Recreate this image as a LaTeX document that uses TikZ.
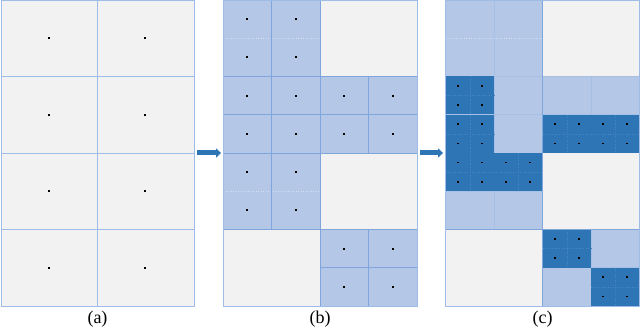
\documentclass[tikz,border=0pt]{standalone}
\usepackage{fontspec}
\setmainfont{Liberation Serif}
\usetikzlibrary{arrows.meta}
\definecolor{cgray}{HTML}{F2F2F2}
\definecolor{clight}{HTML}{B4C7E7}
\definecolor{cdark}{HTML}{2E75B6}
\definecolor{cline}{HTML}{9DBDE6}
\definecolor{cmed}{HTML}{7EA6DC}
\definecolor{csoft}{HTML}{A6C0E5}
\definecolor{cpale}{HTML}{D2DFF2}
\definecolor{cinner}{HTML}{4788C3}
\newcommand\pdot[2]{\fill[black] (#1-0.9,#2-0.9) rectangle ++(1.8,1.8);}
\newcommand\lightcellc[2]{%
  \pgfmathsetmacro\xa{445.5+#1*48.5}\pgfmathsetmacro\ya{#2*38.25}%
  \fill[clight] (\xa,\ya) rectangle ++(48.5,38.25);}
\newcommand\darkcellc[2]{%
  \pgfmathsetmacro\xa{445.5+#1*48.5}\pgfmathsetmacro\ya{#2*38.25}%
  \fill[cdark] (\xa,\ya) rectangle ++(48.5,38.25);
  \draw[innerline] (\xa+24.25,\ya) -- ++(0,38.25) (\xa,\ya+19.125) -- ++(48.5,0);
  \foreach \i in {0,1}{\foreach \j in {0,1}{%
    \pdot{\xa+12.125+\i*24.25}{\ya+9.5625+\j*19.125}}}}
\newcommand\bordercellc[2]{%
  \pgfmathsetmacro\xa{445.5+#1*48.5}\pgfmathsetmacro\ya{#2*38.25}%
  \draw[softline] (\xa,\ya) rectangle ++(48.5,38.25);}
\begin{document}
\begin{tikzpicture}[x=1pt,y=-1pt,
  gridline/.style={draw=cline,line width=0.6pt},
  softline/.style={draw=csoft,line width=0.5pt},
  medline/.style={draw=cmed,line width=0.7pt},
  faintline/.style={draw=cpale,line width=0.5pt,dotted},
  innerline/.style={draw=cinner,line width=0.4pt,dotted},
  panelbox/.style={inner sep=0pt,minimum width=193.5pt,minimum height=306pt},
  caption/.style={font=\fontsize{18}{20}\selectfont,anchor=base,inner sep=0pt},
  bigarrow/.style={draw=cdark,line width=5pt,-{Triangle[length=5pt,width=9pt]}}]
\useasboundingbox (0,0) rectangle (640,328);
\node[panelbox] (pa) at (97.5,153) {};
\node[panelbox] (pb) at (320,153) {};
\node[panelbox] (pc) at (542.5,153) {};
% ---------- panel (a)
\fill[cgray] (1,0) rectangle (194,306);
\draw[gridline] (97.5,0) -- (97.5,306);
\foreach \yy in {76.5,153,229.5} \draw[gridline] (1,\yy) -- (194,\yy);
\draw[gridline] (1,0) rectangle (194,306);
\foreach \xx in {49,145}{\foreach \yy in {38.25,114.75,191.25,267.75}{\pdot{\xx}{\yy}}}
% ---------- panel (b)
\fill[cgray] (223,0) rectangle (417,306);
\fill[clight] (223,0) rectangle (320,229.5);
\fill[clight] (320,76.5) rectangle (417,153);
\fill[clight] (320,229.5) rectangle (417,306);
\draw[faintline] (223,38.25) -- (320,38.25) (223,191.25) -- (320,191.25);
\draw[medline] (271.5,0) -- (271.5,229.5);
\draw[medline] (320,0) -- (320,306);
\draw[medline] (368.5,76.5) -- (368.5,153) (368.5,229.5) -- (368.5,306);
\draw[medline] (223,76.5) -- (417,76.5) (223,114.75) -- (417,114.75)
  (223,153) -- (417,153) (223,229.5) -- (417,229.5) (320,267.75) -- (417,267.75);
\draw[gridline] (223,0) rectangle (417,306);
\foreach \cc/\rr in {0/0,1/0,0/1,1/1,0/2,1/2,2/2,3/2,0/3,1/3,2/3,3/3,0/4,1/4,0/5,1/5,2/6,3/6,2/7,3/7}{%
  \pdot{223+24.25+\cc*48.5}{19.125+\rr*38.25}}
% ---------- panel (c)
\fill[cgray] (445.5,0) rectangle (639.5,306);
\foreach \cc/\rr in {0/0,1/0,0/1,1/1,1/2,2/2,3/2,1/3,0/5,1/5,3/6,2/7}{\lightcellc{\cc}{\rr}}
\foreach \cc/\rr in {0/0,1/0,0/1,1/1,1/2,2/2,3/2,1/3,0/5,1/5,3/6,2/7}{\bordercellc{\cc}{\rr}}
\draw[clight,line width=0.8pt] (446,38.25) -- (542,38.25);
\draw[faintline] (446,38.25) -- (542,38.25);
\foreach \cc/\rr in {0/2,0/3,0/4,1/4,2/3,3/3,2/6,3/7}{\darkcellc{\cc}{\rr}}
\draw[softline] (445.5,114.75) -- (494,114.75);
\draw[medline] (542.5,0) -- (542.5,306) (445.5,229.5) -- (639.5,229.5);
\draw[gridline] (445.5,0) rectangle (639.5,306);
% ---------- arrows
\draw[bigarrow] ([xshift=3pt]pa.east) -- ([xshift=-2pt]pb.west);
\draw[bigarrow] ([xshift=3.5pt]pb.east) -- ([xshift=-2.5pt]pc.west);
% ---------- captions
\node[caption] (la) at (97.5,323.9) {(a)};
\node[caption] (lb) at (320,323.9) {(b)};
\node[caption] (lc) at (542.5,323.9) {(c)};
\end{tikzpicture}
\end{document}
